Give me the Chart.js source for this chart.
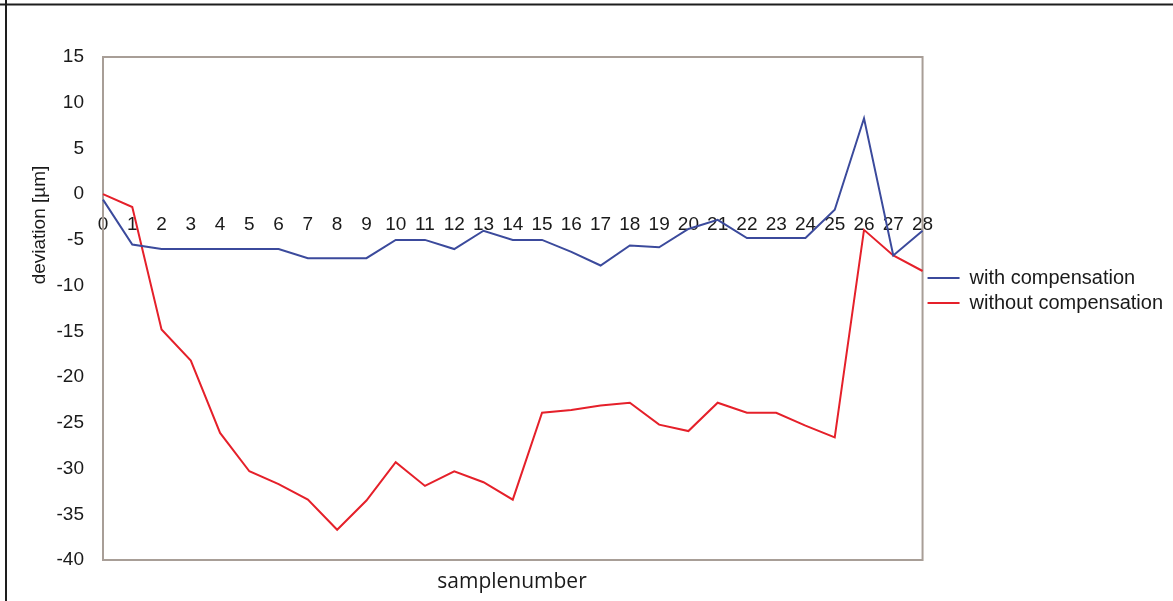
<!DOCTYPE html>
<html>
<head>
<meta charset="utf-8">
<script src="https://cdn.jsdelivr.net/npm/chart.js@4"></script>
<style>
  body { margin: 0; background: #fff; }
  #wrap { width: 1173px; height: 601px; }
</style>
</head>
<body>
<div id="wrap"><canvas id="myChart"></canvas></div>
<script>
const labels = ['0','1','2','3','4','5','6','7','8','9','10','11','12','13','14',
  '15','16','17','18','19','20','21','22','23','24','25','26','27','28'];
const withComp = [-0.6, -5.5, -6, -6, -6, -6, -6, -7, -7, -7, -5, -5, -6, -4, -5,
  -5, -6.3, -7.8, -5.6, -5.8, -3.8, -2.8, -4.8, -4.8, -4.8, -1.7, 8.3, -6.7, -4];
const withoutComp = [0, -1.4, -14.8, -18.2, -26.1, -30.3, -31.7, -33.4, -36.7, -33.5, -29.3, -31.9, -30.3, -31.5, -33.4,
  -23.9, -23.6, -23.1, -22.8, -25.2, -25.9, -22.8, -23.9, -23.9, -25.3, -26.6, -3.9, -6.7, -8.4];
const yTicks = [15, 10, 5, 0, -5, -10, -15, -20, -25, -30, -35, -40];

const tickFont = { family: 'Liberation Sans, Arial', size: 19 };

// frame, outer border and axis titles
const decor = {
  id: 'decor',
  beforeDatasetsDraw(chart) {
    const { ctx, chartArea: a } = chart;
    ctx.save();
    ctx.strokeStyle = '#a89e97';
    ctx.lineWidth = 2;
    ctx.strokeRect(a.left, a.top, a.right - a.left, a.bottom - a.top);
    ctx.restore();
  },
  afterDraw(chart) {
    const { ctx } = chart;
    ctx.save();
    ctx.strokeStyle = '#1e1e1e';
    ctx.lineWidth = 2;
    ctx.beginPath();
    ctx.moveTo(0, 4.5); ctx.lineTo(chart.width, 4.5);
    ctx.moveTo(6, 0); ctx.lineTo(6, chart.height);
    ctx.stroke();

    ctx.fillStyle = '#1a1a1a';
    ctx.textAlign = 'center';
    ctx.textBaseline = 'middle';
    ctx.font = '21px "Open Sans"';
    ctx.fillText('samplenumber', 512, 582);

    ctx.translate(40, 225);
    ctx.rotate(-Math.PI / 2);
    ctx.font = '19px "Liberation Sans"';
    ctx.fillText('deviation [µm]', 0, 0);
    ctx.restore();
  }
};

const myChart = new Chart(document.getElementById('myChart'), {
  type: 'line',
  data: {
    labels,
    datasets: [
      {
        label: 'with compensation',
        data: withComp,
        borderColor: '#3b4a9c',
        backgroundColor: '#3b4a9c',
        borderWidth: 2,
        pointRadius: 0,
        tension: 0,
      },
      {
        label: 'without compensation',
        data: withoutComp,
        borderColor: '#e5202a',
        backgroundColor: '#e5202a',
        borderWidth: 2,
        pointRadius: 0,
        tension: 0,
      },
    ],
  },
  options: {
    responsive: true,
    maintainAspectRatio: false,
    animation: false,
    layout: { padding: { top: 0, left: 0, right: 0, bottom: 20 } },
    scales: {
      x: {
        position: { y: 0 },
        grid: { display: false, drawTicks: false },
        border: { display: false },
        ticks: { font: tickFont, color: '#1a1a1a', padding: 19, maxRotation: 0, autoSkip: false },
      },
      y: {
        min: -40,
        max: 15,
        grid: { display: false, drawTicks: false },
        border: { display: false },
        afterBuildTicks(scale) {
          scale.ticks = yTicks.map(v => ({ value: v }));
        },
        ticks: { font: tickFont, color: '#1a1a1a', padding: 19 },
        afterFit(scale) {
          scale.width = 103;
          scale.paddingTop = 57;
          scale.paddingBottom = 41;
        },
      },
    },
    plugins: {
      legend: {
        position: 'right',
        labels: {
          usePointStyle: true,
          pointStyle: 'line',
          pointStyleWidth: 32,
          padding: 5,
          color: '#1a1a1a',
          font: { family: 'Liberation Sans, Arial', size: 20 },
        },
      },
      tooltip: { enabled: false },
    },
  },
  plugins: [decor],
});
</script>
</body>
</html>
